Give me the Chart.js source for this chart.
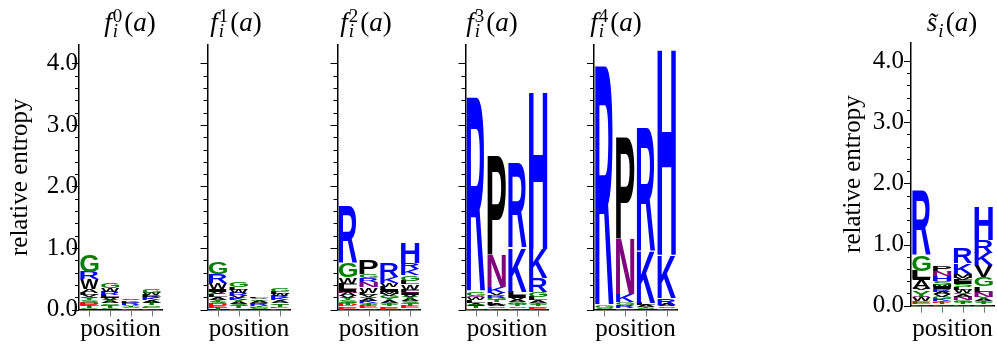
<!DOCTYPE html>
<html>
<head>
<meta charset="utf-8">
<script src="https://cdn.jsdelivr.net/npm/chart.js@4/dist/chart.umd.min.js"></script>
<style>
  html, body { margin: 0; padding: 0; background: #fff; }
  #wrap { position: relative; width: 997px; height: 344px; overflow: hidden; }
  #wrap canvas { position: absolute; left: 0; top: 0; }
  .ttl { position: absolute; top: 7px; transform: translateX(-50%); font: 27px "Liberation Serif", serif;
         white-space: nowrap; line-height: 30px; color: #000; }
  .ss { display: inline-block; font-size: 19px; line-height: 15px; vertical-align: -6px; margin: 0 2px 0 1px; }
  .ss span { display: block; }
</style>
</head>
<body>
<div id="wrap">
  <canvas id="p0" width="997" height="344"></canvas>
  <canvas id="p1" width="997" height="344"></canvas>
  <canvas id="p2" width="997" height="344"></canvas>
  <canvas id="p3" width="997" height="344"></canvas>
  <canvas id="p4" width="997" height="344"></canvas>
  <canvas id="p5" width="997" height="344"></canvas>
  <div class="ttl" style="left:130px"><i>f</i><span class="ss"><span>0</span><span><i>i</i></span></span>(<i>a</i>)</div>
  <div class="ttl" style="left:236px"><i>f</i><span class="ss"><span>1</span><span><i>i</i></span></span>(<i>a</i>)</div>
  <div class="ttl" style="left:366px"><i>f</i><span class="ss"><span>2</span><span><i>i</i></span></span>(<i>a</i>)</div>
  <div class="ttl" style="left:492px"><i>f</i><span class="ss"><span>3</span><span><i>i</i></span></span>(<i>a</i>)</div>
  <div class="ttl" style="left:616px"><i>f</i><span class="ss"><span>4</span><span><i>i</i></span></span>(<i>a</i>)</div>
  <div class="ttl" style="left:952px"><i>s&#771;</i><span class="ss"><span>&nbsp;</span><span><i>i</i></span></span>(<i>a</i>)</div>
</div>
<script>
// Sequence positions on every logo
const positions = ['1', '2', '3', '4'];

// Letters per position, stacked bottom to top, with their heights in bits
const f0Letters = ['CTEDSYQVLAWRG', 'CTESAYVILRWG', 'ESTARLKVG', 'DESTAVKRLWG'];
const f0Heights = [
  [0.02, 0.03, 0.03, 0.03, 0.04, 0.03, 0.02, 0.03, 0.04, 0.06, 0.16, 0.12, 0.27],
  [0.02, 0.03, 0.02, 0.03, 0.03, 0.03, 0.03, 0.02, 0.03, 0.05, 0.06, 0.08],
  [0.02, 0.02, 0.02, 0.02, 0.03, 0.02, 0.02, 0.01, 0.02],
  [0.02, 0.02, 0.03, 0.03, 0.03, 0.02, 0.03, 0.03, 0.03, 0.03, 0.06]
];

const f1Letters = ['TEDSYALQVIWRG', 'ETSAYKVRWLG', 'SETRKAGVL', 'EDTSAYKRWLG'];
const f1Heights = [
  [0.03, 0.03, 0.03, 0.04, 0.03, 0.04, 0.04, 0.02, 0.03, 0.04, 0.10, 0.15, 0.20],
  [0.02, 0.03, 0.04, 0.04, 0.03, 0.03, 0.03, 0.05, 0.05, 0.04, 0.08],
  [0.02, 0.02, 0.02, 0.03, 0.02, 0.03, 0.03, 0.02, 0.02],
  [0.02, 0.02, 0.03, 0.03, 0.03, 0.02, 0.03, 0.04, 0.03, 0.03, 0.07]
];

const f2Letters = ['ECDTSYVANILFWGR', 'DETSKAQVLWNRGP', 'EDTSAYGVMILWKR', 'DETSAYVIQFWLGKRH'];
const f2Heights = [
  [0.03, 0.02, 0.03, 0.03, 0.04, 0.03, 0.04, 0.05, 0.02, 0.04, 0.05, 0.04, 0.11, 0.23, 0.92],
  [0.02, 0.03, 0.03, 0.03, 0.03, 0.04, 0.02, 0.03, 0.04, 0.09, 0.08, 0.07, 0.07, 0.22],
  [0.03, 0.02, 0.03, 0.03, 0.04, 0.03, 0.04, 0.04, 0.03, 0.03, 0.05, 0.06, 0.10, 0.23],
  [0.02, 0.04, 0.03, 0.04, 0.04, 0.03, 0.04, 0.03, 0.02, 0.03, 0.09, 0.06, 0.09, 0.10, 0.10, 0.34]
];

const f3Letters = ['ETASLWQGR', 'ESALTGRVKNP', 'ESTGAVILKR', 'EDTSALGRKH'];
const f3Heights = [
  [0.02, 0.03, 0.03, 0.03, 0.04, 0.04, 0.03, 0.07, 3.16],
  [0.02, 0.03, 0.03, 0.04, 0.03, 0.04, 0.04, 0.04, 0.10, 0.52, 1.62],
  [0.02, 0.03, 0.03, 0.04, 0.03, 0.04, 0.04, 0.06, 0.71, 1.38],
  [0.03, 0.02, 0.03, 0.03, 0.04, 0.05, 0.09, 0.22, 0.47, 2.56]
];

const f4Letters = ['SGR', 'ERAGKNP', 'STALKR', 'ESARKH'];
const f4Heights = [
  [0.02, 0.04, 3.90],
  [0.02, 0.04, 0.02, 0.05, 0.12, 0.90, 1.65],
  [0.02, 0.02, 0.03, 0.04, 0.83, 2.01],
  [0.02, 0.03, 0.03, 0.11, 0.70, 3.35]
];

const sLetters = ['DECWQYVAILGR', 'ETDKGVARIMSHNP', 'DTGNAQWLSIFVMKR', 'ETSAYNLGVKRH'];
const sHeights = [
  [0.02, 0.03, 0.02, 0.06, 0.02, 0.10, 0.03, 0.14, 0.03, 0.12, 0.26, 1.06],
  [0.02, 0.03, 0.02, 0.04, 0.04, 0.04, 0.04, 0.04, 0.03, 0.03, 0.07, 0.08, 0.09, 0.09],
  [0.02, 0.03, 0.04, 0.05, 0.04, 0.03, 0.05, 0.04, 0.06, 0.03, 0.03, 0.03, 0.07, 0.17, 0.25],
  [0.02, 0.03, 0.03, 0.03, 0.03, 0.09, 0.09, 0.15, 0.19, 0.20, 0.21, 0.55]
];

const SERIF = '"Liberation Serif", "Times New Roman", serif';
const GLYPH_FONT = 'bold 200px "Liberation Sans", Arial, sans-serif';

// Amino-acid colouring by chemistry
const LETTER_COLORS = {
  G: '#008000', S: '#008000', T: '#008000', Y: '#008000', C: '#008000',
  N: '#800080', Q: '#800080',
  K: '#0000ff', R: '#0000ff', H: '#0000ff',
  D: '#ff0000', E: '#ff0000'
};
const letterColor = a => LETTER_COLORS[a] || '#000000';

// Glyph ink boxes, so each letter can be stretched to fill its bar
const glyphCache = {};
const measureCtx = document.createElement('canvas').getContext('2d');
function glyphBox(ch) {
  if (!glyphCache[ch]) {
    measureCtx.font = GLYPH_FONT;
    const m = measureCtx.measureText(ch);
    glyphCache[ch] = {
      l: m.actualBoundingBoxLeft, r: m.actualBoundingBoxRight,
      a: m.actualBoundingBoxAscent, d: m.actualBoundingBoxDescent
    };
  }
  return glyphCache[ch];
}

// Paint each stacked bar as its letter, scaled to the bar rectangle
const logoLetters = {
  id: 'logoLetters',
  afterDatasetsDraw(chart) {
    const ctx = chart.ctx;
    chart.data.datasets.forEach((ds, di) => {
      const meta = chart.getDatasetMeta(di);
      meta.data.forEach((bar, i) => {
        const ch = ds.letters[i];
        if (!ch) return;
        const p = bar.getProps(['x', 'y', 'base', 'width'], true);
        const top = Math.min(p.y, p.base);
        const h = Math.abs(p.base - p.y);
        if (h < 0.2) return;
        const g = glyphBox(ch);
        ctx.save();
        ctx.translate(p.x - p.width / 2, top);
        ctx.scale(p.width / (g.l + g.r), h / (g.a + g.d));
        ctx.font = GLYPH_FONT;
        ctx.fillStyle = letterColor(ch);
        ctx.textAlign = 'left';
        ctx.textBaseline = 'alphabetic';
        ctx.fillText(ch, g.l, g.a);
        ctx.restore();
      });
    });
  }
};

// Outward tick marks: long at whole bits, short every 0.2; small marks under positions
const axisMarks = {
  id: 'axisMarks',
  afterDraw(chart) {
    const ctx = chart.ctx, ys = chart.scales.y, xs = chart.scales.x, area = chart.chartArea;
    ctx.save();
    ctx.lineWidth = 1;
    ctx.strokeStyle = '#000';
    ys.ticks.forEach(t => {
      const q = t.value / 0.2;
      if (Math.abs(q - Math.round(q)) > 1e-6) return;
      const major = Math.abs(t.value - Math.round(t.value)) < 1e-6;
      const len = major ? 7 : 4;
      const py = Math.round(ys.getPixelForValue(t.value)) + 0.5;
      ctx.beginPath();
      ctx.moveTo(area.left - len, py);
      ctx.lineTo(area.left, py);
      ctx.stroke();
    });
    ctx.strokeStyle = '#777';
    positions.forEach((_, i) => {
      const px = Math.round(xs.getPixelForValue(i)) + 0.5;
      ctx.beginPath();
      ctx.moveTo(px, area.bottom + 1);
      ctx.lineTo(px, area.bottom + 7);
      ctx.stroke();
    });
    ctx.restore();
  }
};

const isWhole = v => Math.abs(v - Math.round(v)) < 1e-6;

function makeLogo(canvasId, letters, heights, frame) {
  const depth = Math.max(...letters.map(s => s.length));
  const datasets = [];
  for (let k = 0; k < depth; k++) {
    datasets.push({
      data: heights.map(col => (col[k] !== undefined ? col[k] : 0)),
      letters: letters.map(s => s[k] || ''),
      backgroundColor: 'rgba(0,0,0,0)',
      borderWidth: 0,
      barPercentage: 0.88,
      categoryPercentage: 1
    });
  }
  const yWidth = frame.left - frame.padLeft;
  const axisBorder = { display: true, color: '#000', width: 1.5 };
  new Chart(document.getElementById(canvasId), {
    type: 'bar',
    data: { labels: positions, datasets },
    options: {
      responsive: false,
      animation: false,
      devicePixelRatio: 1,
      events: [],
      layout: { padding: { left: frame.padLeft, right: 997 - frame.right, top: frame.top, bottom: 0 } },
      plugins: { legend: { display: false }, tooltip: { enabled: false }, title: { display: false } },
      scales: {
        x: {
          stacked: true,
          offset: true,
          grid: { display: false, drawTicks: false },
          border: axisBorder,
          ticks: { display: false },
          title: { display: true, text: 'position', color: '#000', font: { family: SERIF, size: 25 }, padding: 0 },
          afterFit(s) { s.height = 344 - frame.bottom; }
        },
        y: {
          stacked: true,
          min: 0,
          max: 4.3,
          grid: { display: false, drawTicks: false },
          border: axisBorder,
          ticks: {
            display: frame.labels,
            stepSize: 0.2,
            autoSkip: false,
            padding: frame.tickPad || 0,
            color: '#000',
            font: { family: SERIF, size: 25 },
            callback: v => (isWhole(v) ? v.toFixed(1) : '')
          },
          title: { display: frame.labels, text: 'relative entropy', color: '#000', font: { family: SERIF, size: 25 }, padding: 0 },
          afterFit(s) { s.width = yWidth; }
        }
      }
    },
    plugins: [logoLetters, axisMarks]
  });
}

makeLogo('p0', f0Letters, f0Heights, { left: 79, right: 162, top: 45, bottom: 309.5, labels: true, padLeft: 5, tickPad: 1 });
makeLogo('p1', f1Letters, f1Heights, { left: 207.5, right: 290.5, top: 45, bottom: 309.5, labels: false, padLeft: 197.5 });
makeLogo('p2', f2Letters, f2Heights, { left: 337.5, right: 420.5, top: 45, bottom: 309.5, labels: false, padLeft: 327.5 });
makeLogo('p3', f3Letters, f3Heights, { left: 465.5, right: 548.5, top: 45, bottom: 309.5, labels: false, padLeft: 455.5 });
makeLogo('p4', f4Letters, f4Heights, { left: 594, right: 677, top: 45, bottom: 309.5, labels: false, padLeft: 584 });
makeLogo('p5', sLetters, sHeights, { left: 911, right: 994, top: 42.6, bottom: 305.7, labels: true, padLeft: 838, tickPad: 7 });
</script>
</body>
</html>
